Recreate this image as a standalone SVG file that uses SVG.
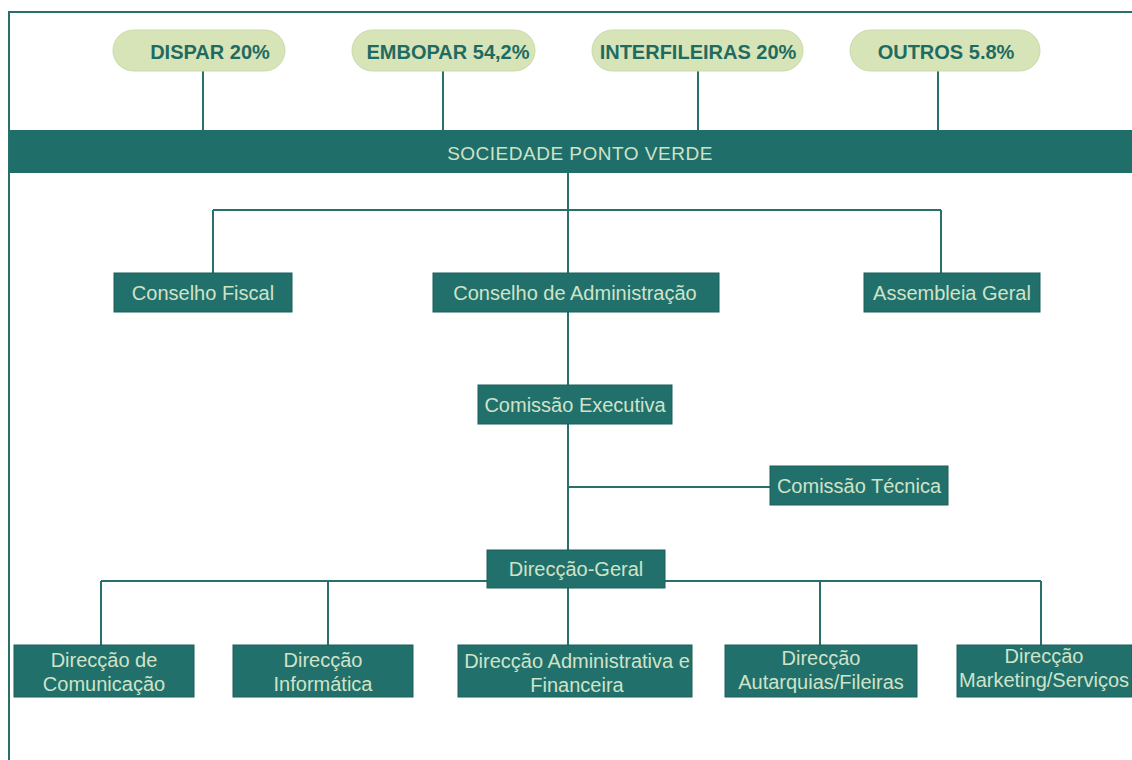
<svg xmlns="http://www.w3.org/2000/svg" width="1132" height="760" viewBox="0 0 1132 760">
<style>
.pill{fill:#d6e4b8;stroke:#c9dba8;stroke-width:1}
.pt{font-family:"Liberation Sans",Arial,sans-serif;font-weight:bold;font-size:20px;fill:#1f6b62;text-anchor:middle}
.box{fill:#22706b;stroke:#1b5f5b;stroke-width:1}
.bt{font-family:"Liberation Sans",Arial,sans-serif;font-size:20px;fill:#cfe3c8;text-anchor:middle}
.ln{stroke:#27706b;stroke-width:2;fill:none}
</style>
<rect width="1132" height="760" fill="#ffffff"/>
<g id="frame"><path class="ln" d="M9 760 V12 H1132"/></g>
<g id="connectors">
<path class="ln" d="M203 71 V130 M443 71 V130 M698 71 V130 M938 71 V130"/>
<path class="ln" d="M568 173 V273 M213 210 H941 M213 210 V273 M941 210 V273"/>
<path class="ln" d="M568 312 V385 M568 424 V550 M568 487 H770"/>
<path class="ln" d="M101 581 H1041 M101 581 V645 M328 581 V645 M568 588 V645 M820 581 V645 M1041 581 V645"/>
</g>
<g id="dispar"><rect class="pill" x="113" y="30" width="172" height="41" rx="20.5"/><text class="pt" x="210" y="59">DISPAR 20%</text></g>
<g id="embopar"><rect class="pill" x="352" y="30" width="183" height="41" rx="20.5"/><text class="pt" x="448" y="59">EMBOPAR 54,2%</text></g>
<g id="interfileiras"><rect class="pill" x="592" y="30" width="211" height="41" rx="20.5"/><text class="pt" x="698" y="59">INTERFILEIRAS 20%</text></g>
<g id="outros"><rect class="pill" x="850" y="30" width="190" height="41" rx="20.5"/><text class="pt" x="946" y="59">OUTROS 5.8%</text></g>
<g id="spv"><rect x="9" y="130" width="1123" height="43" fill="#1f6e69"/><text class="bt" x="580" y="160" style="font-size:19px;letter-spacing:0.5px">SOCIEDADE PONTO VERDE</text></g>
<g id="conselho-fiscal"><rect class="box" x="114" y="273" width="178" height="39"/><text class="bt" x="203" y="300">Conselho Fiscal</text></g>
<g id="conselho-admin"><rect class="box" x="433" y="273" width="286" height="39"/><text class="bt" x="575" y="300">Conselho de Administração</text></g>
<g id="assembleia"><rect class="box" x="864" y="273" width="176" height="39"/><text class="bt" x="952" y="300">Assembleia Geral</text></g>
<g id="comissao-exec"><rect class="box" x="478" y="385" width="194" height="39"/><text class="bt" x="575" y="412">Comissão Executiva</text></g>
<g id="comissao-tec"><rect class="box" x="770" y="466" width="178" height="39"/><text class="bt" x="859" y="493">Comissão Técnica</text></g>
<g id="direccao-geral"><rect class="box" x="487" y="550" width="178" height="38"/><text class="bt" x="576" y="576">Direcção-Geral</text></g>
<g id="d-comunicacao"><rect class="box" x="14" y="645" width="180" height="52"/><text class="bt" x="104" y="667">Direcção de</text><text class="bt" x="104" y="691">Comunicação</text></g>
<g id="d-informatica"><rect class="box" x="233" y="645" width="180" height="52"/><text class="bt" x="323" y="667">Direcção</text><text class="bt" x="323" y="691">Informática</text></g>
<g id="d-admin"><rect class="box" x="458" y="645" width="234" height="52"/><text class="bt" x="577" y="668">Direcção Administrativa e</text><text class="bt" x="577" y="692">Financeira</text></g>
<g id="d-autarquias"><rect class="box" x="725" y="645" width="192" height="52"/><text class="bt" x="821" y="665">Direcção</text><text class="bt" x="821" y="689">Autarquias/Fileiras</text></g>
<g id="d-marketing"><rect class="box" x="957" y="645" width="175" height="52"/><text class="bt" x="1044" y="663">Direcção</text><text class="bt" x="1044" y="687">Marketing/Serviços</text></g>
</svg>
